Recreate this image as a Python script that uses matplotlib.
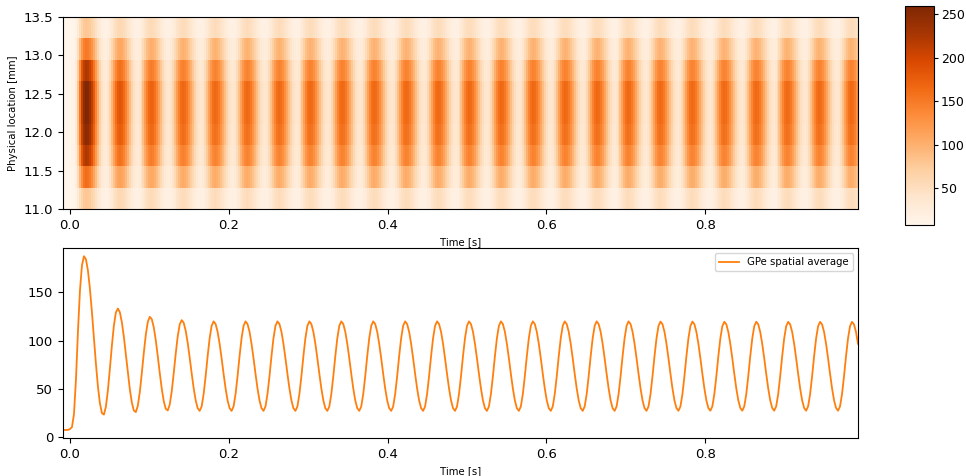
import numpy as np
import matplotlib
matplotlib.use("Agg")
import matplotlib.pyplot as plt

# ---------------- data ----------------
dt = 0.0025125          # sampling step of the series [s]
first_index = -4        # index of first sample (t = index*dt)

# GPe spatial average
transient = [
    7.5, 7.5, 7.5, 7.6,
    8.5, 10.5, 24.0, 60.0, 110.0, 152.0, 178.0, 187.5, 184.3, 172.6, 153.6, 129.5, 102.6, 76.1, 52.7, 35.1, 25.0,
    23.4, 31.7, 48.6, 71.0, 94.8, 115.5, 129.2, 133.3, 129.4, 119.1, 104.0, 85.9, 67.0, 49.6, 36.0, 27.7,
    26.0, 32.6, 46.8, 66.3, 87.3, 106.1, 119.4, 124.7, 122.3, 113.8, 100.5, 84.0, 66.5, 50.3, 37.4, 29.5,
    27.7, 33.8, 47.5, 66.3, 86.5, 104.5, 116.9, 121.3, 118.5, 110.3, 97.8, 82.5, 66.1, 50.8, 38.3, 30.1,
]
steady = [
    27.3, 31.9, 44.8, 63.3, 84.0, 102.5, 115.4, 120.0, 117.2, 109.2, 96.8, 81.7, 65.6, 50.5, 38.1, 30.1,
    27.3, 31.9, 44.8, 63.3, 84.0, 102.5, 115.4, 120.0, 117.2, 109.2, 96.8, 81.7, 65.6, 50.5, 38.1, 30.1,
    27.3, 31.9, 44.8, 63.3, 84.0, 102.5, 115.4, 120.0, 117.2, 109.2, 96.8, 81.7, 65.6, 50.5, 38.1, 30.1,
    27.3, 31.9, 44.8, 63.3, 84.0, 102.5, 115.4, 120.0, 117.2, 109.2, 96.8, 81.7, 65.6, 50.5, 38.1, 30.1,
    27.3, 31.9, 44.8, 63.3, 84.0, 102.5, 115.4, 120.0, 117.2, 109.2, 96.8, 81.7, 65.6, 50.5, 38.1, 30.1,
    27.3, 31.9, 44.8, 63.3, 84.0, 102.5, 115.4, 120.0, 117.2, 109.2, 96.8, 81.7, 65.6, 50.5, 38.1, 30.1,
    27.3, 31.9, 44.8, 63.3, 84.0, 102.5, 115.4, 120.0, 117.2, 109.2, 96.8, 81.7, 65.6, 50.5, 38.1, 30.1,
    27.3, 31.9, 44.8, 63.3, 84.0, 102.5, 115.4, 120.0, 117.2, 109.2, 96.8, 81.7, 65.6, 50.5, 38.1, 30.1,
    27.3, 31.9, 44.8, 63.3, 84.0, 102.5, 115.4, 120.0, 117.2, 109.2, 96.8, 81.7, 65.6, 50.5, 38.1, 30.1,
    27.3, 31.9, 44.8, 63.3, 84.0, 102.5, 115.4, 120.0, 117.2, 109.2, 96.8, 81.7, 65.6, 50.5, 38.1, 30.1,
    27.3, 31.9, 44.8, 63.3, 84.0, 102.5, 115.4, 120.0, 117.2, 109.2, 96.8, 81.7, 65.6, 50.5, 38.1, 30.1,
    27.3, 31.9, 44.8, 63.3, 84.0, 102.5, 115.4, 120.0, 117.2, 109.2, 96.8, 81.7, 65.6, 50.5, 38.1, 30.1,
    27.3, 31.9, 44.8, 63.3, 84.0, 102.5, 115.4, 120.0, 117.2, 109.2, 96.8, 81.7, 65.6, 50.5, 38.1, 30.1,
    27.3, 31.9, 44.8, 63.3, 84.0, 102.5, 115.4, 120.0, 117.2, 109.2, 96.8, 81.7, 65.6, 50.5, 38.1, 30.1,
    27.4, 31.9, 44.8, 63.3, 84.0, 102.4, 115.2, 119.8, 117.0, 109.1, 96.7, 81.7, 65.6, 50.5, 38.1, 30.2,
    27.4, 31.9, 44.8, 63.3, 84.0, 102.4, 115.2, 119.8, 117.0, 109.1, 96.7, 81.7, 65.6, 50.5, 38.1, 30.2,
    27.5, 32.0, 44.8, 63.3, 84.0, 102.3, 115.0, 119.6, 116.9, 109.0, 96.7, 81.7, 65.6, 50.5, 38.2, 30.3,
    27.5, 32.0, 44.8, 63.3, 84.0, 102.3, 115.0, 119.6, 116.9, 109.0, 96.7, 81.7, 65.6, 50.5, 38.2, 30.3,
    27.5, 32.0, 44.8, 63.3, 84.0, 102.3, 115.0, 119.5, 116.8, 109.0, 96.7, 81.7, 65.6, 50.5, 38.2, 30.3,
    27.5, 32.0, 44.8, 63.3, 84.0, 102.3, 115.0, 119.5, 116.8, 109.0, 96.7, 81.7, 65.6, 50.5, 38.2, 30.3,
    27.5, 32.0, 44.8, 63.3, 84.0, 102.3, 115.0, 119.5, 116.8, 109.0, 96.7,
]
gpe_average = np.array(transient + steady)
time = (np.arange(len(gpe_average)) + first_index) * dt

# spatial grid (9 bins between 11.0 and 13.5 mm) and relative activity per bin
location_range = (11.0, 13.5)
spatial_profile = [0.40, 0.85, 1.20, 1.35, 1.40, 1.40, 1.20, 0.80, 0.40]  # bottom -> top
baseline = 7.5

# heatmap: rows follow the spatial profile of the oscillation
heat = np.array([baseline + p * (gpe_average - baseline) for p in spatial_profile])

x_ticks = [0.0, 0.2, 0.4, 0.6, 0.8]
y_ticks_top = [11.0, 11.5, 12.0, 12.5, 13.0, 13.5]
y_ticks_bottom = [0, 50, 100, 150]
cbar_ticks = [50, 100, 150, 200, 250]

# ---------------- figure ----------------
W, H = 966, 476
fig = plt.figure(figsize=(W / 100, H / 100), dpi=100)

def box(l, t, r, b):
    return [l / W, 1 - b / H, (r - l) / W, (b - t) / H]

ax1 = fig.add_axes(box(63, 17, 858, 209))
ax2 = fig.add_axes(box(63, 248, 858, 438))
cax = fig.add_axes(box(905, 6, 934, 225))

xlim = (-0.0088, time[-1])

im = ax1.imshow(heat, aspect="auto", origin="lower", cmap="Oranges",
                extent=[xlim[0], xlim[1], location_range[0], location_range[1]],
                interpolation="nearest")
ax1.set_xlim(xlim)
ax1.set_ylim(location_range)
ax1.set_xticks(x_ticks)
ax1.set_xticklabels([f"{v:.1f}" for v in x_ticks])
ax1.set_yticks(y_ticks_top)
ax1.set_yticklabels([f"{v:.1f}" for v in y_ticks_top])
ax1.set_xlabel("Time [s]", fontsize=7.3)
ax1.set_ylabel("Physical location [mm]", fontsize=7.3)
ax1.tick_params(labelsize=9.5)

cb = fig.colorbar(im, cax=cax)
cb.set_ticks(cbar_ticks)
cb.ax.tick_params(labelsize=9, pad=2, length=3)

ax2.plot(time, gpe_average, color="#ff7f0e", lw=1.3, label="GPe spatial average")
ax2.set_xlim(xlim)
ax2.set_ylim(-0.8, 196)
ax2.set_xticks(x_ticks)
ax2.set_xticklabels([f"{v:.1f}" for v in x_ticks])
ax2.set_yticks(y_ticks_bottom)
ax2.set_xlabel("Time [s]", fontsize=7.3)
ax2.tick_params(labelsize=9.5)
ax2.legend(loc="upper right", fontsize=7.3)

fig.savefig("out.png", dpi=100)
